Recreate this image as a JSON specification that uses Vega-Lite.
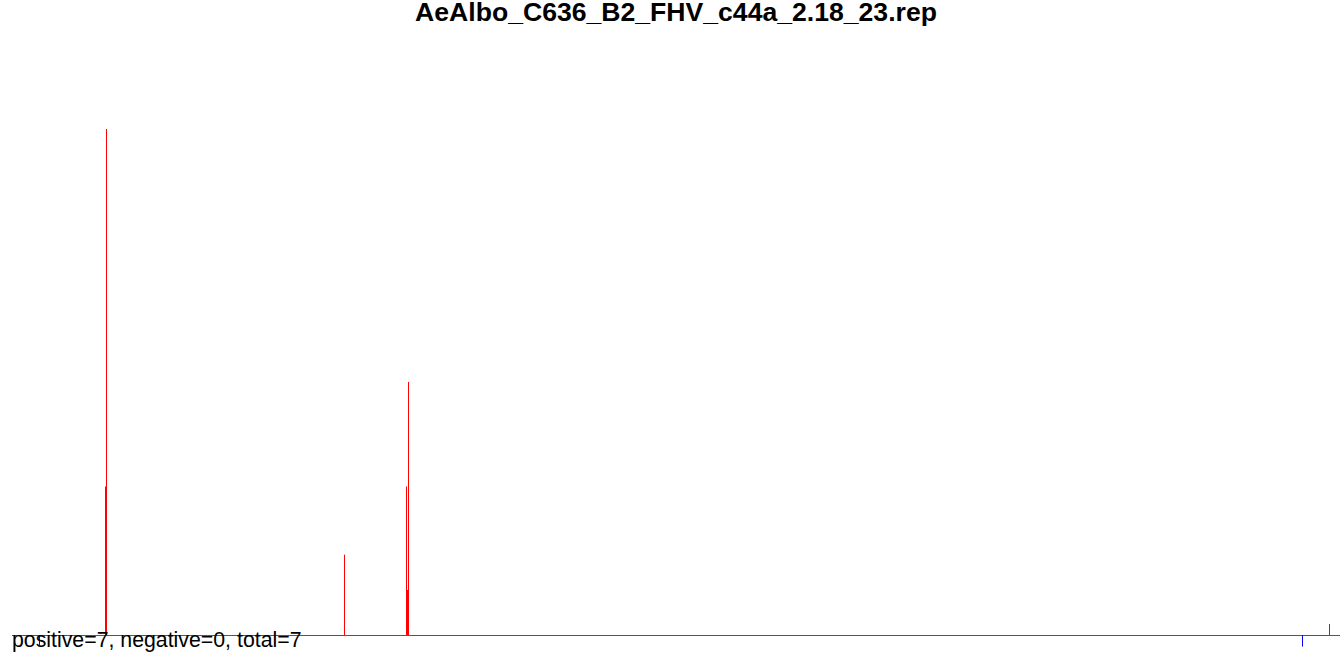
{
  "$schema": "https://vega.github.io/schema/vega-lite/v6.json",
  "autosize": "none",
  "width": 1328,
  "height": 613,
  "padding": {"left": 12, "right": 1, "top": 40, "bottom": 0},
  "background": "white",
  "config": {"view": {"stroke": null}},
  "title": {
    "text": "AeAlbo_C636_B2_FHV_c44a_2.18_23.rep",
    "font": "Liberation Sans",
    "fontSize": 26.6,
    "fontWeight": "bold",
    "color": "black",
    "anchor": "middle",
    "baseline": "alphabetic",
    "offset": 14,
    "dy": 22
  },
  "data": {
    "values": [
      {"pos": 93, "count": 13.5, "base": 0, "strand": "positive"},
      {"pos": 94, "count": 46, "base": 0, "strand": "positive"},
      {"pos": 332, "count": 7.3, "base": 0, "strand": "positive"},
      {"pos": 394, "count": 13.5, "base": 0, "strand": "positive"},
      {"pos": 395, "count": 4.1, "base": 0, "strand": "positive"},
      {"pos": 396, "count": 23, "base": 0, "strand": "positive"},
      {"pos": 1317, "count": 1, "base": 0, "strand": "positive"},
      {"pos": 27, "count": -0.9, "base": 0, "strand": "negative"},
      {"pos": 1290, "count": -1.05, "base": 0, "strand": "negative"}
    ]
  },
  "layer": [
    {
      "data": {"values": [{"start": 0, "end": 1328, "level": 0}]},
      "mark": {"type": "rule", "color": "#555555", "strokeWidth": 1, "yOffset": 0.5},
      "encoding": {
        "x": {"field": "start", "type": "quantitative", "scale": {"domain": [0, 1328], "nice": false, "zero": false}, "axis": null},
        "x2": {"field": "end"},
        "y": {"field": "level", "type": "quantitative", "scale": {"domain": [-1.6364, 54.0909], "nice": false, "zero": false}, "axis": null}
      }
    },
    {
      "mark": {"type": "rule", "strokeWidth": 1, "xOffset": 0.5},
      "encoding": {
        "x": {"field": "pos", "type": "quantitative", "axis": null},
        "y": {"field": "base", "type": "quantitative", "axis": null},
        "y2": {"field": "count"},
        "color": {"field": "strand", "type": "nominal", "scale": {"domain": ["positive", "negative"], "range": ["#ff0000", "#0000ff"]}, "legend": null}
      }
    },
    {
      "data": {"values": [{"label": "positive=7, negative=0, total=7", "x": 0, "y": 0}]},
      "mark": {"type": "text", "font": "Liberation Sans", "fontSize": 21.3, "color": "black", "align": "left", "baseline": "alphabetic", "dy": 12},
      "encoding": {
        "x": {"field": "x", "type": "quantitative", "axis": null},
        "y": {"field": "y", "type": "quantitative", "axis": null},
        "text": {"field": "label"}
      }
    }
  ]
}
